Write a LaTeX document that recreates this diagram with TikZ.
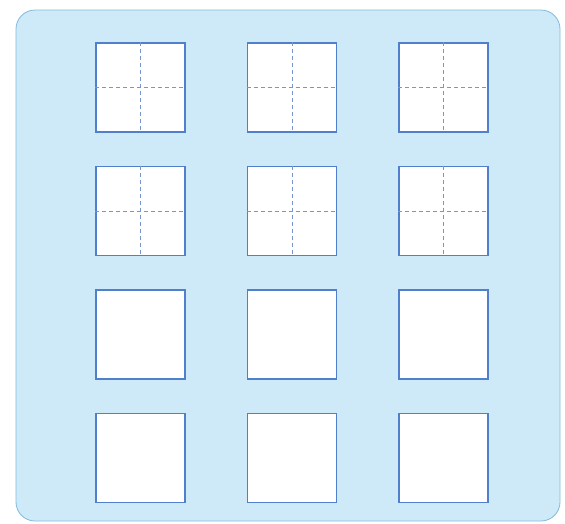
\documentclass[tikz,border=0pt]{standalone}
\usepackage{xcolor}
\usepackage{tikz}
\usetikzlibrary{positioning}

\definecolor{panelfill}{RGB}{206,234,248}
\definecolor{paneledge}{RGB}{128,186,222}
\definecolor{cellblue}{RGB}{80,128,205}
\definecolor{guideblue}{RGB}{118,150,205}

\begin{document}
\begin{tikzpicture}[node distance=61pt and 33pt]
  \tikzstyle{cell}=[rectangle,draw=cellblue,fill=white,line width=1.4pt,minimum size=89pt,inner sep=0pt]
  \tikzstyle{guide}=[draw=guideblue,dashed,line width=0.6pt,dash pattern=on 4pt off 3pt]

  \useasboundingbox (0pt,0pt) rectangle (565pt,-523pt);
  \draw[fill=panelfill,draw=paneledge,line width=0.8pt,rounded corners=19pt]
    (16pt,-10pt) rectangle (560pt,-521pt);

  % four rows of three squares
  \node[cell] (s11) at (140.5pt,-87.5pt) {};
  \node[cell] (s12) [right=61pt of s11] {};
  \node[cell] (s13) [right=61pt of s12] {};
  \node[cell] (s21) [below=33pt of s11] {};
  \node[cell] (s22) [right=61pt of s21] {};
  \node[cell] (s23) [right=61pt of s22] {};
  \node[cell] (s31) [below=33pt of s21] {};
  \node[cell] (s32) [right=61pt of s31] {};
  \node[cell] (s33) [right=61pt of s32] {};
  \node[cell] (s41) [below=33pt of s31] {};
  \node[cell] (s42) [right=61pt of s41] {};
  \node[cell] (s43) [right=61pt of s42] {};

  % dashed halves in the top two rows
  \path[guide]
    (s11.north) edge (s11.south) (s11.west) edge (s11.east)
    (s12.north) edge (s12.south) (s12.west) edge (s12.east)
    (s13.north) edge (s13.south) (s13.west) edge (s13.east)
    (s21.north) edge (s21.south) (s21.west) edge (s21.east)
    (s22.north) edge (s22.south) (s22.west) edge (s22.east)
    (s23.north) edge (s23.south) (s23.west) edge (s23.east);
\end{tikzpicture}
\end{document}
